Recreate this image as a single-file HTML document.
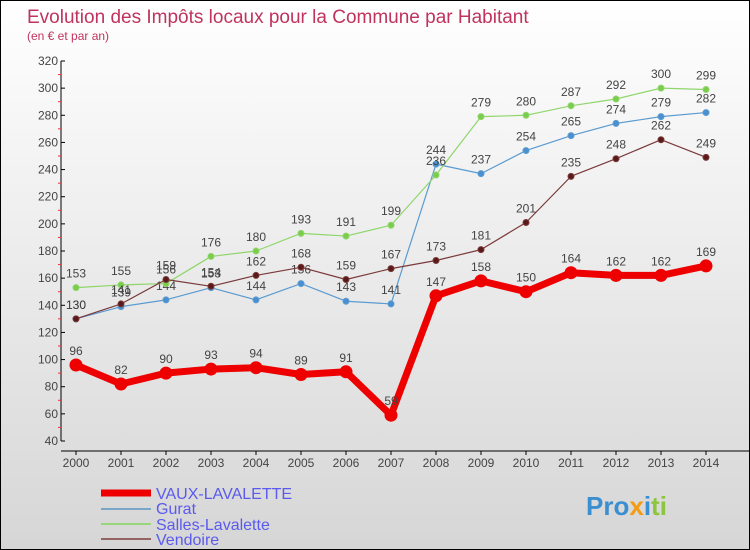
<!DOCTYPE html>
<html><head><meta charset="utf-8"><style>
body{margin:0}
#c{width:748px;height:548px;border:1px solid #000;background:linear-gradient(#fff,#d6d6d6);position:relative;font-family:"Liberation Sans",sans-serif}
</style></head><body>
<div id="c">
<svg id="s" width="748" height="548" style="position:absolute;left:0;top:0">
<text x="26" y="22" font-size="19" fill="#c0335f">Evolution des Impôts locaux pour la Commune par Habitant</text>
<text x="26" y="39" font-size="12" fill="#c0335f">(en € et par an)</text>
<g id="axes"></g><g id="series"></g>
<g>
<line x1="100" y1="492" x2="150" y2="492" stroke="#e00" stroke-width="7"/>
<text x="155" y="498" font-size="16" fill="#5a5aee">VAUX-LAVALETTE</text>
<line x1="100" y1="508" x2="150" y2="508" stroke="#7aa6c8" stroke-width="2"/>
<text x="155" y="513" font-size="16" fill="#5a5aee">Gurat</text>
<line x1="100" y1="523" x2="150" y2="523" stroke="#99d67a" stroke-width="2"/>
<text x="155" y="529" font-size="16" fill="#5a5aee">Salles-Lavalette</text>
<line x1="100" y1="538" x2="150" y2="538" stroke="#946464" stroke-width="2"/>
<text x="155" y="544" font-size="16" fill="#5a5aee">Vendoire</text>
</g>
<text x="585" y="514" font-size="26" font-weight="bold" fill="#3a8fd0">Pro<tspan fill="#f39c12">x</tspan><tspan fill="#3a8fd0">i</tspan><tspan fill="#8cc63f">ti</tspan></text>
</svg></div>
<script>
const years=[2000,2001,2002,2003,2004,2005,2006,2007,2008,2009,2010,2011,2012,2013,2014];
const vaux=[96,82,90,93,94,89,91,59,147,158,150,164,162,162,169];
const gurat=[130,139,144,153,144,156,143,141,244,237,254,265,274,279,282];
const salles=[153,155,156,176,180,193,191,199,236,279,280,287,292,300,299];
const vendoire=[130,141,159,154,162,168,159,167,173,181,201,235,248,262,249];
const yTicks=[40,60,80,100,120,140,160,180,200,220,240,260,280,300,320];
const NS="http://www.w3.org/2000/svg";
const xs=i=>75+i*45, ys=v=>440-(v-40)*380/280;
function mk(t,a,p){const e=document.createElementNS(NS,t);for(const k in a)e.setAttribute(k,a[k]);p.appendChild(e);return e;}
const ax=document.getElementById('axes'), sg=document.getElementById('series');
let l=mk('line',{x1:60,y1:60,x2:60,y2:440,stroke:'#000'},ax);


l=mk('line',{x1:60,y1:450,x2:748,y2:450,stroke:'#000'},ax);


yTicks.forEach((v,i)=>{const y=ys(v);mk('line',{x1:60,y1:y,x2:64,y2:y,stroke:'#000'},ax);
 if(i<yTicks.length-1)mk('line',{x1:57,y1:ys(v+10),x2:60,y2:ys(v+10),stroke:'#e33'},ax);
 const t=mk('text',{x:57,y:y+4,'font-size':12,fill:'#444','text-anchor':'end'},ax);t.textContent=v;
 
 });
years.forEach((yr,i)=>{const x=xs(i);mk('line',{x1:x,y1:450,x2:x,y2:454,stroke:'#000'},ax);
 const t=mk('text',{x:x,y:466,'font-size':12,fill:'#444','text-anchor':'middle'},ax);t.textContent=yr;
 
 });
function series(d,col,w,r,name,dot){
 const p=mk('polyline',{points:d.map((v,i)=>xs(i)+','+ys(v)).join(' '),fill:'none',stroke:col,'stroke-width':w,'stroke-linejoin':'round'},sg);
 
 
 d.forEach((v,i)=>{const c=mk('circle',{cx:xs(i),cy:ys(v),r:r,fill:dot,stroke:col,'stroke-width':1},sg);
 
 
 const t=mk('text',{x:xs(i),y:ys(v)-10,'font-size':12,fill:'#444','text-anchor':'middle'},sg);t.textContent=v;
 
 });
}
series(gurat,'#5b9bd0',1.2,3,'gurat','#4a90d0');
series(salles,'#8fd66a',1.2,3,'salles','#7acc4c');
series(vendoire,'#7a3a3a',1.2,3,'vendoire','#5a1a1a');
series(vaux,'#ee0000',7,6,'vaux','#ee0000');
</script></body></html>
